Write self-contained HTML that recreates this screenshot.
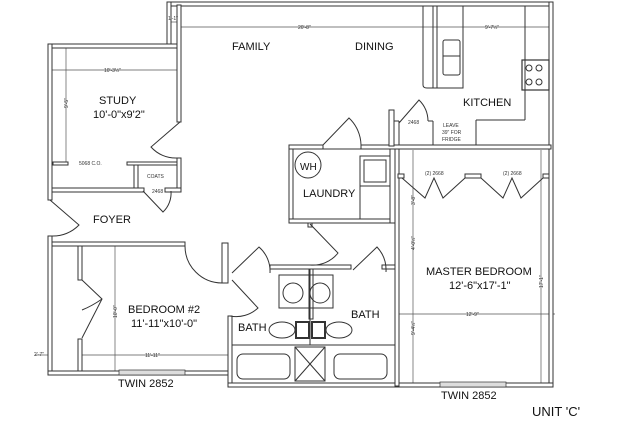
<!DOCTYPE html>
<html><head><style>
html,body{margin:0;padding:0;background:#fff;}
svg{display:block;font-family:"Liberation Sans",sans-serif;}
.w{fill:#fff;stroke:#333;stroke-width:1;}
.l{stroke:#333;stroke-width:1;fill:none;}
.t{fill:#555;stroke-width:0.7;fill:none;stroke:#555}
.lab{font-size:11px;fill:#111;}
.d{font-size:5px;fill:#333;}
</style></head><body>
<svg width="631" height="421" viewBox="0 0 631 421" xmlns="http://www.w3.org/2000/svg">
<g class="t">
<line x1="180" y1="27" x2="550" y2="27"/>
<line x1="167" y1="22" x2="180" y2="22"/>
<line x1="50" y1="70" x2="177" y2="70"/>
<line x1="66" y1="45" x2="66" y2="163"/>
<line x1="82" y1="355" x2="230" y2="355"/>
<line x1="115" y1="246" x2="115" y2="374"/>
<line x1="35" y1="355" x2="50" y2="355"/>
<line x1="395" y1="314" x2="555" y2="314"/>
<line x1="413" y1="150" x2="413" y2="385"/>
<line x1="541" y1="150" x2="541" y2="384"/>
</g>
<g class="w">
<rect x="167" y="2" width="386" height="4"/>
<rect x="167" y="2" width="4" height="46"/>
<rect x="177" y="5" width="4" height="117"/>
<rect x="48" y="44" width="129" height="4"/>
<rect x="48" y="44" width="4" height="156"/>
<rect x="549" y="2" width="4" height="384"/>
<rect x="53" y="162" width="15" height="3"/>
<rect x="127" y="162" width="50" height="3"/>
<rect x="134" y="165" width="4" height="26"/>
<rect x="177" y="158" width="4" height="33"/>
<rect x="52" y="188" width="92" height="4"/>
<rect x="165" y="188" width="16" height="4"/>
<rect x="48" y="236" width="4" height="139"/>
<rect x="52" y="242" width="133" height="4"/>
<rect x="78" y="246" width="4" height="34"/>
<rect x="78" y="339" width="4" height="34"/>
<rect x="48" y="371" width="182" height="4"/>
<rect x="222" y="243" width="6" height="40"/>
<rect x="228" y="316" width="4" height="71"/>
<rect x="228" y="383" width="325" height="4"/>
<rect x="289" y="145" width="34" height="4"/>
<rect x="361" y="145" width="190" height="4"/>
<rect x="289" y="149" width="4" height="74"/>
<rect x="289" y="219" width="106" height="4"/>
<rect x="390" y="149" width="5" height="74"/>
<rect x="395" y="149" width="4" height="237"/>
<rect x="270" y="265" width="81" height="4"/>
<rect x="382" y="265" width="13" height="4"/>
<rect x="398" y="174" width="6" height="4"/>
<rect x="465" y="174" width="16" height="4"/>
<rect x="543" y="174" width="6" height="4"/>
<rect x="389" y="110" width="5" height="36"/>
<rect x="308" y="223" width="4" height="4"/>
<rect x="309" y="269" width="4" height="50"/>
</g>
<rect x="119" y="370" width="66" height="5" fill="#ddd" stroke="#333" stroke-width="0.7"/>
<rect x="440" y="382" width="66" height="5" fill="#ddd" stroke="#333" stroke-width="0.7"/>
<g class="l">
<path d="M423 6 V85 Q423 88 427 88 H437 V6"/>
<line x1="433" y1="6" x2="433" y2="88"/>
<path d="M437 6 V88 H463 V6"/>
<rect x="443" y="40" width="17" height="35" rx="2"/>
<line x1="443" y1="56" x2="460" y2="56"/>
<line x1="525" y1="6" x2="525" y2="120"/>
<line x1="476" y1="120" x2="525" y2="120"/>
<line x1="476" y1="120" x2="476" y2="145"/>
<line x1="394" y1="121" x2="399" y2="121"/>
<line x1="399" y1="121" x2="399" y2="145"/>
<line x1="433" y1="121" x2="433" y2="145"/>
<line x1="428" y1="121" x2="433" y2="121"/>
<rect x="522" y="60" width="27" height="30" stroke-width="1.2"/>
<circle cx="529" cy="68" r="3"/><circle cx="539" cy="68" r="3"/>
<circle cx="529" cy="82" r="3"/><circle cx="539" cy="82" r="3"/>
<rect x="293" y="149" width="97" height="70"/>
<circle cx="308" cy="165" r="13"/>
<rect x="360" y="156" width="30" height="30"/>
<rect x="364" y="160" width="22" height="22"/>
<line x1="360" y1="186" x2="360" y2="219"/>
<!-- doors -->
<path d="M180 122 L151 147 A33 33 0 0 0 177 158"/>
<path d="M143 191 L163 212 A26 26 0 0 0 171 191"/>
<path d="M50 200 L79 225 A36 36 0 0 1 52 236"/>
<path d="M185 246 A37 37 0 0 0 222 283"/>
<path d="M232 273 L259 247 A32 32 0 0 1 270 273"/>
<path d="M232 280 L258 308 A32 32 0 0 1 230 316"/>
<path d="M310 224 L338 253 A32 32 0 0 1 310 265"/>
<path d="M353 270 L377 247 A34 34 0 0 1 386 272"/>
<path d="M323 145 L349 118 A38 38 0 0 1 361 145"/>
<path d="M399 123 L419 100 A30 30 0 0 1 428 121"/>
<!-- bifolds -->
<path d="M82 280 L102 299 L82 338"/>
<path d="M82 310 Q92 306 102 299"/>
<path d="M402 178 L425 198 L434 178 L443 198 L465 178"/>
<path d="M481 178 L503 198 L512 178 L521 198 L543 178"/>
<!-- bath -->
<rect x="279" y="275" width="54" height="33"/>
<circle cx="293" cy="293" r="10"/><circle cx="320" cy="293" r="10"/>
<line x1="310" y1="269" x2="310" y2="345"/>
<ellipse cx="282" cy="330" rx="13" ry="8"/>
<ellipse cx="339" cy="330" rx="13" ry="8"/>
<rect x="296" y="322" width="13" height="16" stroke-width="2"/>
<rect x="312" y="322" width="13" height="16" stroke-width="2"/>
<rect x="232" y="345" width="163" height="38"/>
<rect x="237" y="354" width="53" height="25" rx="6"/>
<rect x="334" y="354" width="53" height="25" rx="6"/>
<rect x="295" y="347" width="30" height="34"/>
<line x1="295" y1="347" x2="325" y2="381"/><line x1="325" y1="347" x2="295" y2="381"/>
</g>
<g class="lab">
<text x="232" y="50">FAMILY</text>
<text x="355" y="50">DINING</text>
<text x="463" y="106">KITCHEN</text>
<text x="99" y="104">STUDY</text>
<text x="93" y="118">10'-0"x9'2"</text>
<text x="300" y="170" font-size="10">WH</text>
<text x="303" y="197">LAUNDRY</text>
<text x="93" y="223">FOYER</text>
<text x="128" y="313">BEDROOM #2</text>
<text x="131" y="327">11'-11"x10'-0"</text>
<text x="238" y="331">BATH</text>
<text x="351" y="318">BATH</text>
<text x="426" y="275">MASTER BEDROOM</text>
<text x="449" y="289">12'-6"x17'-1"</text>
<text x="118" y="387">TWIN 2852</text>
<text x="441" y="399">TWIN 2852</text>
<text x="532" y="416" font-size="13">UNIT 'C'</text>
</g>
<g class="d">
<text x="168" y="20">1'-1"</text>
<text x="298" y="29">20'-8"</text>
<text x="485" y="29">9'-7½"</text>
<text x="104" y="72">10'-3½"</text>
<text x="79" y="165">5068 C.O.</text>
<text x="147" y="178">COATS</text>
<text x="152" y="193">2468</text>
<text x="408" y="124">2468</text>
<text x="443" y="127">LEAVE</text>
<text x="442" y="134">39" FOR</text>
<text x="442" y="141">FRIDGE</text>
<text x="425" y="175">(2) 2668</text>
<text x="503" y="175">(2) 2668</text>
<text x="145" y="357">11'-11"</text>
<text x="34" y="356">2'-7"</text>
<text x="466" y="316">12'-9"</text>
<text transform="translate(68,108) rotate(-90)">9'-5"</text>
<text transform="translate(117,318) rotate(-90)">10'-0"</text>
<text transform="translate(543,288) rotate(-90)">17'-1"</text>
<text transform="translate(415,205) rotate(-90)">3'-8"</text>
<text transform="translate(415,250) rotate(-90)">4'-0½"</text>
<text transform="translate(415,335) rotate(-90)">9'-4½"</text>
</g>
</svg>
</body></html>
